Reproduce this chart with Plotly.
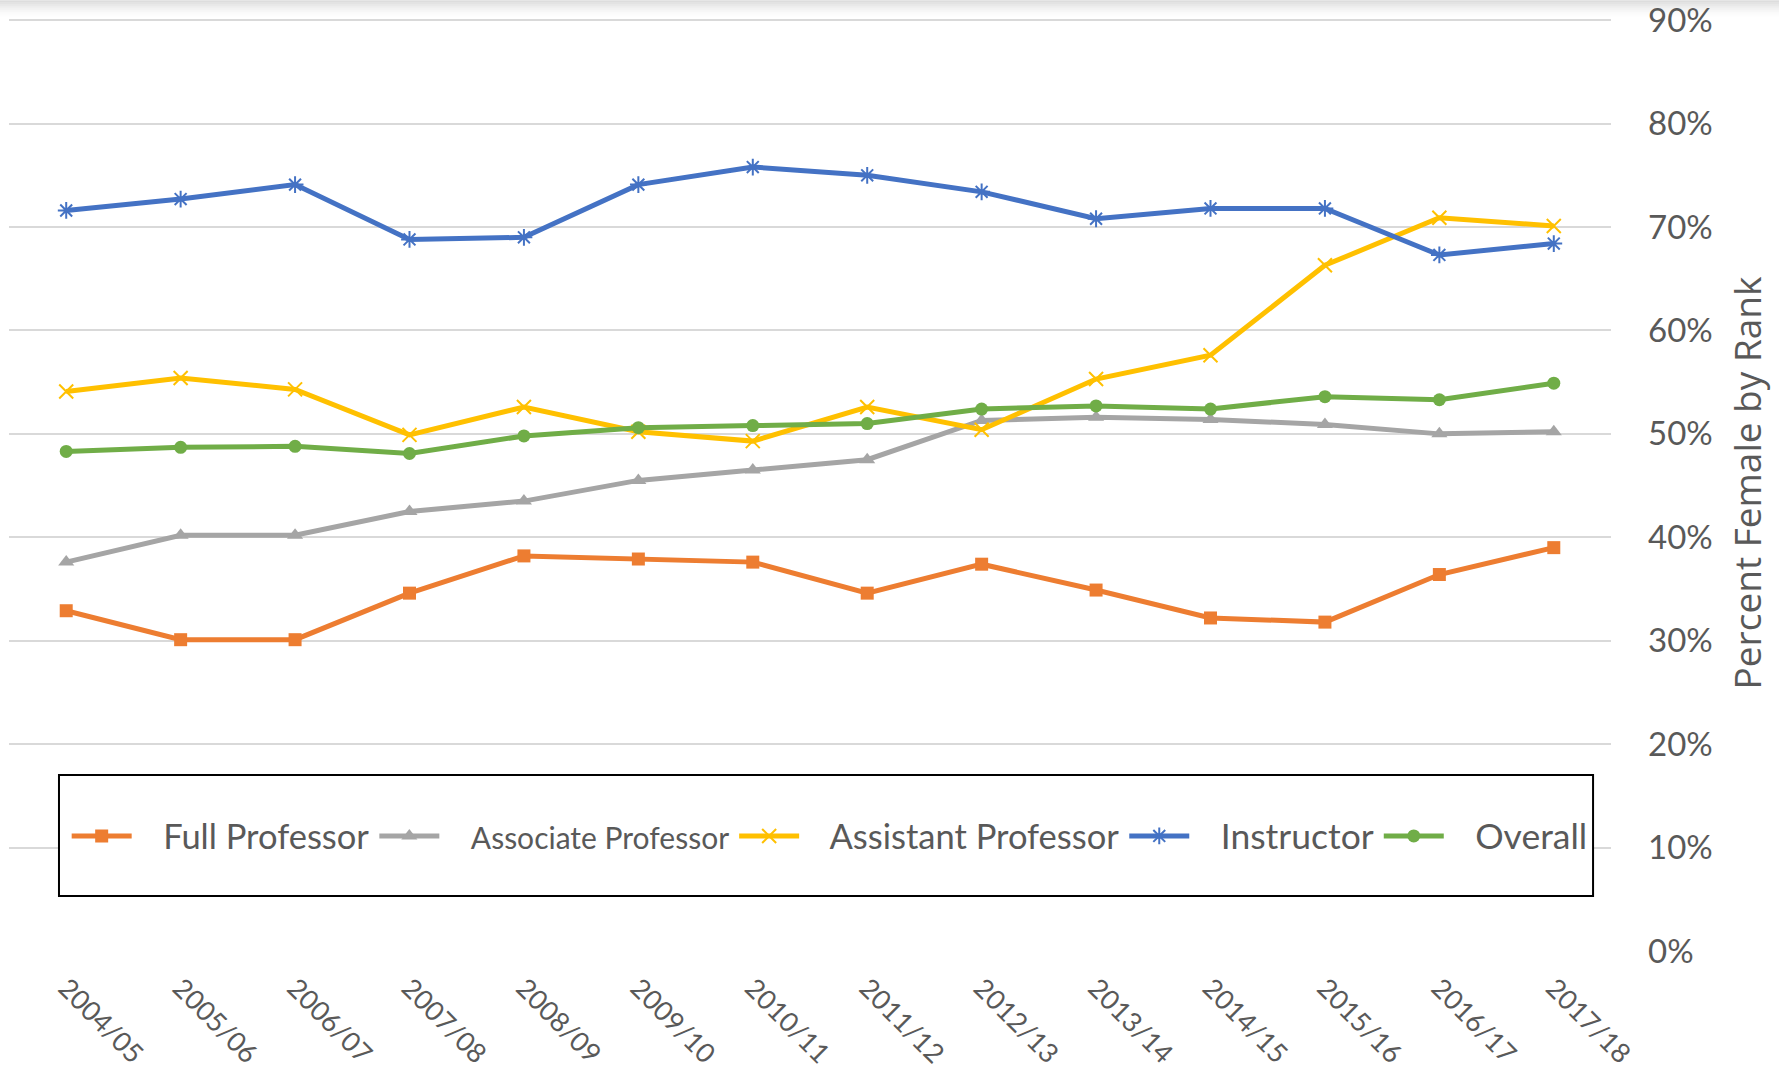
import plotly.graph_objects as go

years = ["2004/05", "2005/06", "2006/07", "2007/08", "2008/09", "2009/10", "2010/11",
         "2011/12", "2012/13", "2013/14", "2014/15", "2015/16", "2016/17", "2017/18"]

full_prof = [32.9, 30.1, 30.1, 34.6, 38.2, 37.9, 37.6, 34.6, 37.4, 34.9, 32.2, 31.8, 36.4, 39.0]
assoc_prof = [37.6, 40.2, 40.2, 42.5, 43.5, 45.5, 46.5, 47.5, 51.3, 51.6, 51.4, 50.9, 50.0, 50.2]
asst_prof = [54.1, 55.4, 54.3, 49.9, 52.6, 50.2, 49.3, 52.6, 50.4, 55.3, 57.6, 66.3, 70.9, 70.1]
instructor = [71.6, 72.7, 74.1, 68.8, 69.0, 74.1, 75.8, 75.0, 73.4, 70.8, 71.8, 71.8, 67.3, 68.4]
overall = [48.3, 48.7, 48.8, 48.1, 49.8, 50.6, 50.8, 51.0, 52.4, 52.7, 52.4, 53.6, 53.3, 54.9]

y_ticks = [0, 10, 20, 30, 40, 50, 60, 70, 80, 90]
y_tick_labels = ["0%", "10%", "20%", "30%", "40%", "50%", "60%", "70%", "80%", "90%"]

FONT = "Lato"
GRAY = "#595959"
PAD = "\u00a0" * 3

# page body margin is removed in post_script, so figure px == page px
W, H = 1779, 1072
ML, MR, MB = 9, 168, 121
Y_MAX = 90.5
px_per_unit = 931.0 / 90.0
plot_h = Y_MAX * px_per_unit
MT = H - MB - plot_h

series = [
    ("Full Professor", full_prof, "#ED7D31", dict(symbol="square", size=13)),
    ("<span style='font-size:30px'>Associate Professor</span>", assoc_prof, "#A5A5A5", dict(symbol="triangle-up", size=14)),
    ("Assistant Professor", asst_prof, "#FFC000", dict(symbol="x-thin-open", size=14, line=dict(width=2, color="#FFC000"))),
    ("<span style='font-size:35.5px'>Instructor</span>", instructor, "#4472C4", dict(symbol="asterisk-open", size=14, line=dict(width=2, color="#4472C4"))),
    ("<span style='font-size:35.5px'>Overall</span>", overall, "#70AD47", dict(symbol="circle", size=13)),
]

fig = go.Figure()
for name, vals, color, mk in series:
    mk = dict(mk)
    mk.setdefault("color", color)
    fig.add_trace(go.Scatter(
        x=years, y=vals, name=PAD + name, mode="lines+markers",
        line=dict(color=color, width=5),
        marker=mk,
    ))

def py(fig_px):
    """figure pixel y -> paper y"""
    return (H - MB - fig_px) / plot_h

# legend frame (page y 775..896)
fig.add_shape(type="rect", xref="paper", yref="paper",
              x0=0.0312, x1=0.9888, y0=py(896), y1=py(775),
              line=dict(color="black", width=2), fillcolor="white", layer="above")

# top shadow band (page y 0..16), beneath the axis labels
N = 8
for i in range(N):
    fig.add_shape(type="rect", xref="paper", yref="paper",
                  x0=-0.01, x1=1.11, y0=py((i + 1) * 2), y1=py(i * 2),
                  line=dict(width=0), fillcolor="rgba(150,150,150,%.3f)" % (0.32 * (1 - i / N) ** 1.5),
                  layer="below")

fig.update_layout(
    width=W, height=H,
    margin=dict(l=ML, r=MR, t=MT, b=MB, autoexpand=False, pad=0),
    paper_bgcolor="white", plot_bgcolor="white",
    font=dict(family=FONT, color=GRAY),
    showlegend=True,
    legend=dict(
        orientation="h", x=0.036, y=py(836), xanchor="left", yanchor="middle",
        bgcolor="rgba(0,0,0,0)", borderwidth=0,
        font=dict(family=FONT, size=34.5, color=GRAY),
        itemwidth=60, traceorder="normal",
    ),
    xaxis=dict(
        type="category", range=[-0.5, 13.5], automargin=False,
        tickangle=45, tickfont=dict(family=FONT, size=27, color=GRAY),
        showgrid=False, zeroline=False, showline=False, ticks="",
        ticklabelstandoff=15,
    ),
    yaxis=dict(
        side="right", range=[0, Y_MAX], tickvals=y_ticks, ticktext=y_tick_labels,
        automargin=False, ticklabeloverflow="allow",
        tickfont=dict(family=FONT, size=33, color=GRAY),
        showgrid=True, gridcolor="#D9D9D9", gridwidth=1.5,
        zeroline=False, showline=False, ticks="",
        ticklabelstandoff=36,
        title=dict(text="Percent Female by Rank", font=dict(family="Open Sans", size=37, color=GRAY), standoff=23),
    ),
)

fig.write_html("out.html", config={"displayModeBar": False},
               post_script="document.body.style.margin='0';")
